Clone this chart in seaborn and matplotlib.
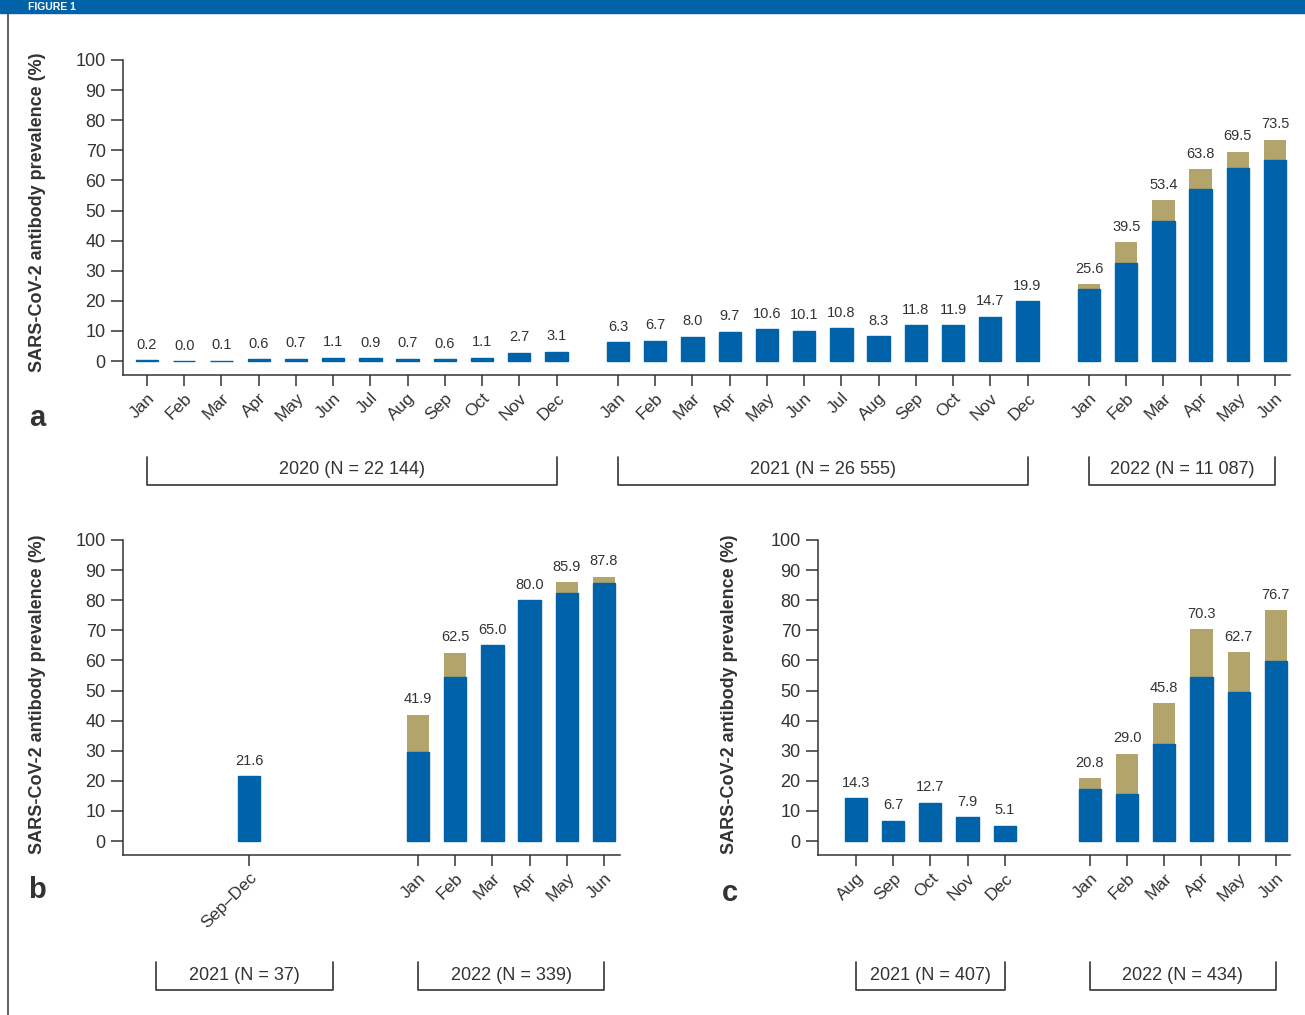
import numpy as np
import pandas as pd
import matplotlib
matplotlib.use("Agg")
import matplotlib.pyplot as plt
import matplotlib.transforms as mtransforms
from matplotlib.patches import Rectangle
from matplotlib.lines import Line2D
import seaborn as sns

# ---- data ----
months = ["Jan", "Feb", "Mar", "Apr", "May", "Jun", "Jul", "Aug", "Sep", "Oct", "Nov", "Dec"]

# panel a
a_2020_total = [0.2, 0.0, 0.1, 0.6, 0.7, 1.1, 0.9, 0.7, 0.6, 1.1, 2.7, 3.1]
a_2021_total = [6.3, 6.7, 8.0, 9.7, 10.6, 10.1, 10.8, 8.3, 11.8, 11.9, 14.7, 19.9]
a_2022_total = [25.6, 39.5, 53.4, 63.8, 69.5, 73.5]
a_2022_blue = [23.9, 32.7, 46.5, 57.1, 64.0, 66.7]
a_groups = ["2020 (N = 22 144)", "2021 (N = 26 555)", "2022 (N = 11 087)"]

# panel b
b_2021_label = "Sep\u2013Dec"
b_2021_total = [21.6]
b_2022_total = [41.9, 62.5, 65.0, 80.0, 85.9, 87.8]
b_2022_blue = [29.5, 54.6, 65.0, 80.0, 82.3, 85.8]
b_groups = ["2021 (N = 37)", "2022 (N = 339)"]

# panel c
c_2021_months = ["Aug", "Sep", "Oct", "Nov", "Dec"]
c_2021_total = [14.3, 6.7, 12.7, 7.9, 5.1]
c_2022_total = [20.8, 29.0, 45.8, 70.3, 62.7, 76.7]
c_2022_blue = [17.2, 15.5, 32.1, 54.5, 49.4, 59.9]
c_groups = ["2021 (N = 407)", "2022 (N = 434)"]

BLUE = "#0062A8"
TAN = "#B3A46C"
INK = "#333333"
YLABEL = "SARS-CoV-2 antibody prevalence (%)"

sns.set_style("ticks")
plt.rcParams["font.family"] = ["Liberation Sans", "DejaVu Sans"]
plt.rcParams["text.color"] = INK
plt.rcParams["axes.edgecolor"] = INK
plt.rcParams["xtick.color"] = INK
plt.rcParams["ytick.color"] = INK

W, H = 1305, 1015
fig = plt.figure(figsize=(W / 100, H / 100), dpi=100)


def fx(px):
    return px / W


def fy(py):
    return 1 - py / H


def draw_panel(ax, pos, total, blue, labels, xlim):
    df = pd.DataFrame({"pos": pos, "total": total, "blue": blue})
    sns.barplot(data=df, x="pos", y="total", native_scale=True, orient="x",
                color=TAN, saturation=1, width=0.6, errorbar=None,
                linewidth=0, ax=ax)
    sns.barplot(data=df, x="pos", y="blue", native_scale=True, orient="x",
                color=BLUE, saturation=1, width=0.6, errorbar=None,
                edgecolor=BLUE, linewidth=1.0, ax=ax)
    for p, t in zip(pos, total):
        ax.text(p, t + 2.8, f"{t:.1f}", ha="center", va="bottom",
                fontsize=10.5, color=INK)
    ax.set_ylim(-4.65, 100)
    ax.set_xlim(*xlim)
    ax.set_yticks(np.arange(0, 101, 10))
    ax.tick_params(axis="y", labelsize=13, length=9, width=1.1)
    ax.set_xticks(pos)
    ax.set_xticklabels(labels, rotation=45, ha="right", rotation_mode="anchor",
                       fontsize=12.5)
    shift = mtransforms.ScaledTranslation(5 / 100, 0, fig.dpi_scale_trans)
    for lab in ax.get_xticklabels():
        lab.set_transform(lab.get_transform() + shift)
    ax.tick_params(axis="x", length=8, width=1.1, pad=3)
    ax.set_xlabel("")
    ax.set_ylabel("")
    sns.despine(ax=ax)
    for s in ["left", "bottom"]:
        ax.spines[s].set_linewidth(1.1)


def bracket(ax, x0, x1, y_top, y_bot, text):
    tr = mtransforms.blended_transform_factory(ax.transData, fig.transFigure)
    ax.plot([x0, x0, x1, x1], [fy(y_top), fy(y_bot), fy(y_bot), fy(y_top)],
            color=INK, lw=1.2, transform=tr, clip_on=False)
    ax.text((x0 + x1) / 2, fy(y_bot - 15), text, ha="center", va="center",
            fontsize=13, transform=tr)


# ---- panel a ----
ax_a = fig.add_axes([fx(123), fy(375), fx(1290) - fx(123), fy(60) - fy(375)])
g1 = np.arange(12)
g2 = 12.65 + np.arange(12)
g3 = 25.3 + np.arange(6)
pos_a = np.concatenate([g1, g2, g3])
tot_a = a_2020_total + a_2021_total + a_2022_total
blu_a = a_2020_total + a_2021_total + a_2022_blue
draw_panel(ax_a, pos_a, tot_a, blu_a, months + months + months[:6], (-0.645, 30.7))
for g, name in zip([g1, g2, g3], a_groups):
    bracket(ax_a, g[0], g[-1], 457, 485, name)

# ---- panel b ----
ax_b = fig.add_axes([fx(123), fy(855), fx(620) - fx(123), fy(540) - fy(855)])
h1 = np.array([0.0])
h2 = 4.54 + np.arange(6)
pos_b = np.concatenate([h1, h2])
tot_b = b_2021_total + b_2022_total
blu_b = b_2021_total + b_2022_blue
draw_panel(ax_b, pos_b, tot_b, blu_b, [b_2021_label] + months[:6], (-3.39, 9.97))
bracket(ax_b, h1[0] - 2.5, h1[0] + 2.25, 962, 990, b_groups[0])
bracket(ax_b, h2[0], h2[-1], 962, 990, b_groups[1])

# ---- panel c ----
ax_c = fig.add_axes([fx(818), fy(855), fx(1290) - fx(818), fy(540) - fy(855)])
k1 = np.arange(5)
k2 = 6.29 + np.arange(6)
pos_c = np.concatenate([k1, k2])
tot_c = c_2021_total + c_2022_total
blu_c = c_2021_total + c_2022_blue
draw_panel(ax_c, pos_c, tot_c, blu_c, c_2021_months + months[:6], (-1.02, 11.67))
bracket(ax_c, k1[0], k1[-1], 962, 990, c_groups[0])
bracket(ax_c, k2[0], k2[-1], 962, 990, c_groups[1])

# ---- axis titles and panel letters ----
for x, y in [(38, 212), (38, 694), (730, 694)]:
    fig.text(fx(x), fy(y), YLABEL, rotation=90, ha="center", va="center",
             fontsize=13, fontweight="bold")
for x, y, s in [(37, 418, "a"), (37, 890, "b"), (730, 893, "c")]:
    fig.text(fx(x), fy(y), s, ha="center", va="center", fontsize=21,
             fontweight="bold")

# ---- frame: header band and left rule ----
fig.patches.append(Rectangle((0, fy(13)), 1, 13 / H, transform=fig.transFigure,
                             color="#0062A8", zorder=5))
fig.text(fx(28), fy(6.5), "FIGURE 1", color="white", fontsize=7.5, fontweight="bold",
         va="center", ha="left", zorder=6)
fig.lines.append(Line2D([fx(8), fx(8)], [0, fy(13)], transform=fig.transFigure,
                        color="#444444", lw=1.2))

fig.savefig("out.png", dpi=100)
